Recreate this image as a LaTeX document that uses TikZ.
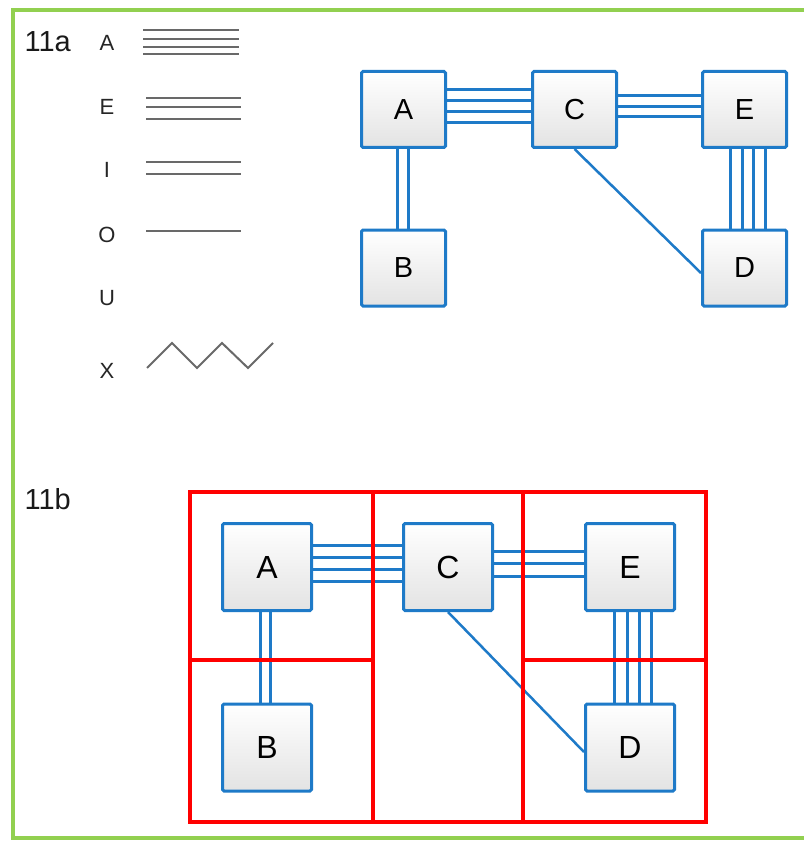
\documentclass[tikz,border=0pt]{standalone}
\usepackage{fontspec}
\setmainfont{Liberation Sans}
\definecolor{boxblue}{RGB}{30,122,200}
\definecolor{framegreen}{RGB}{146,208,80}
\definecolor{legendgray}{RGB}{105,105,105}
\begin{document}
\begin{tikzpicture}[x=1pt,y=-1pt,
  box/.style={draw=boxblue, line width=3pt, rounded corners=1.5pt,
    top color=white, bottom color=black!11, inner sep=0pt,
    font=\fontsize{29}{29}\selectfont},
  topbox/.style={box, minimum width=84pt, minimum height=76pt},
  botbox/.style={box, minimum width=89pt, minimum height=87pt,
    font=\fontsize{32}{32}\selectfont},
  link/.style={draw=boxblue, line width=3pt},
  diag/.style={draw=boxblue, line width=2.5pt},
  legline/.style={draw=legendgray, line width=2.5pt},
  gridcell/.style={draw=red, line width=4pt},
  leglabel/.style={anchor=base, font=\fontsize{22}{22}\selectfont, text=black!85},
  figlabel/.style={anchor=base west, font=\fontsize{29}{29}\selectfont, text=black!90}
]
\useasboundingbox (0,0) rectangle (804,842);
\fill[white] (0,0) rectangle (804,842);

% green frame
\draw[framegreen, line width=4.5pt] (804,10) -- (13,10) -- (13,838) -- (804,838);

% labels
\node[figlabel] (lab11a) at (21,52) {11a};
\node[figlabel] (lab11b) at (21,509) {11b};

% legend
\node[leglabel] (legA) at (107,51) {A};
\node[leglabel] (legE) at (107,115) {E};
\node[leglabel] (legI) at (107,178) {I};
\node[leglabel] (legO) at (107,242) {O};
\node[leglabel] (legU) at (107,305) {U};
\node[leglabel] (legX) at (107,378) {X};
\foreach \y in {30,39,47,54} \draw[legline] (143,\y) -- (239,\y);
\foreach \y in {98,107,119} \draw[legline] (146,\y) -- (241,\y);
\foreach \y in {162,174} \draw[legline] (146,\y) -- (241,\y);
\draw[legline] (146,231) -- (241,231);
\draw[legline, line width=2pt] (147,368) -- (172,343) -- (197,368) -- (222,343) -- (248,368) -- (273,343);

% top diagram
\node[topbox] (tA) at (403.5,109.5) {A};
\node[topbox] (tC) at (574.5,109.5) {C};
\node[topbox] (tE) at (744.5,109.5) {E};
\node[topbox] (tB) at (403.5,268) {B};
\node[topbox] (tD) at (744.5,268) {D};
\foreach \s in {19.5,8.5,-2.5,-13.5} \draw[link] ([yshift=\s pt]tA.east) -- ([yshift=\s pt]tC.west);
\foreach \s in {13.5,2.5,-7.5} \draw[link] ([yshift=\s pt]tC.east) -- ([yshift=\s pt]tE.west);
\foreach \s in {-6.5,4.5} \draw[link] ([xshift=\s pt]tA.south) -- ([xshift=\s pt]tB.north);
\foreach \s in {-14.5,-2.5,8.5,20.5} \draw[link] ([xshift=\s pt]tE.south) -- ([xshift=\s pt]tD.north);
\draw[diag] (tC.south) -- ([yshift=-5pt]tD.west);

% bottom diagram
\node[botbox] (bA) at (267,567) {A};
\node[botbox] (bC) at (448,567) {C};
\node[botbox] (bE) at (630,567) {E};
\node[botbox] (bB) at (267,747.5) {B};
\node[botbox] (bD) at (630,747.5) {D};
\foreach \s in {22,10,-2,-14} \draw[link] ([yshift=\s pt]bA.east) -- ([yshift=\s pt]bC.west);
\foreach \s in {16,4,-9} \draw[link] ([yshift=\s pt]bC.east) -- ([yshift=\s pt]bE.west);
\foreach \s in {-7,3} \draw[link] ([xshift=\s pt]bA.south) -- ([xshift=\s pt]bB.north);
\foreach \s in {-16,-3,9,21} \draw[link] ([xshift=\s pt]bE.south) -- ([xshift=\s pt]bD.north);
\draw[diag] (bC.south) -- ([yshift=-4.5pt]bD.west);

% red grid
\draw[gridcell] (190,492) rectangle (373,660);
\draw[gridcell] (190,660) rectangle (373,822);
\draw[gridcell] (373,492) rectangle (523,822);
\draw[gridcell] (523,492) rectangle (706,660);
\draw[gridcell] (523,660) rectangle (706,822);
\end{tikzpicture}
\end{document}
